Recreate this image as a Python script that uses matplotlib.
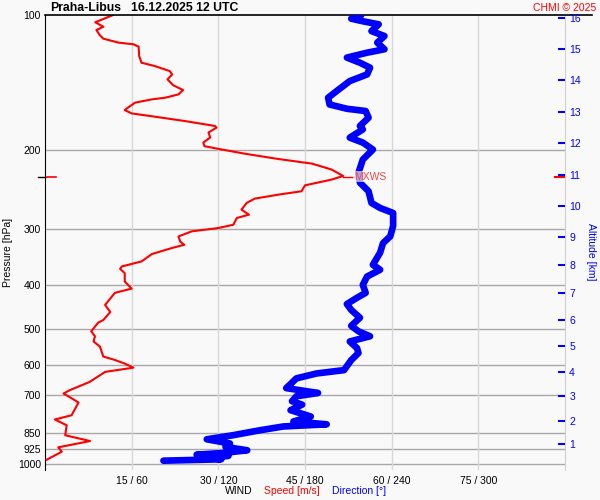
import numpy as np
import matplotlib.pyplot as plt
from matplotlib.ticker import NullLocator

plt.rcParams['font.family'] = ['Liberation Sans', 'DejaVu Sans']

# pressure levels (hPa) shown on the left axis
p_levels = [100, 200, 300, 400, 500, 600, 700, 850, 925, 1000]
# speed / direction ticks
spd_ticks = [15, 30, 45, 60, 75]
dir_ticks = [60, 120, 180, 240, 300]
# altitude scale (km) and matching pressure (hPa)
alt_km = [1, 2, 3, 4, 5, 6, 7, 8, 9, 10, 11, 12, 13, 14, 15, 16]
alt_p = [902.5, 799.5, 704.4, 622.8, 545.8, 478.5, 415.6, 360.8, 311.9,
         266.6, 227.3, 193.2, 164.6, 139.8, 119.3, 101.7]

# wind speed profile
spd_p = [100.0, 103.8, 106.2, 108.0, 111.0, 112.9, 115.2, 116.2, 117.6, 123.4,
         127.7, 129.9, 133.3, 135.6, 139.1, 143.4, 146.9, 150.2, 152.8, 154.1,
         156.7, 161.6, 162.8, 165.6, 168.4, 172.2, 176.6, 178.1, 182.6, 187.3,
         192.3, 195.9, 198.6, 203.6, 209.2, 214.2, 220.8, 228.2, 232.5, 239.4,
         246.8, 251.1, 256.3, 262.0, 271.2, 278.3, 283.0, 293.0, 298.0, 303.1,
         311.1, 319.4, 324.7, 330.3, 340.5, 353.7, 362.8, 367.3, 375.5, 391.9,
         406.5, 415.4, 442.0, 458.3, 477.4, 484.0, 506.0, 519.0, 533.0, 547.0,
         576.0, 586.0, 597.0, 609.5, 623.0, 656.0, 684.0, 696.0, 713.0, 729.0,
         778.0, 795.0, 819.0, 862.0, 888.0, 917.0, 938.0, 977.0]
spd_v = [11.8, 8.7, 10.1, 8.9, 9.5, 10.1, 12.7, 15.3, 16.2, 16.3,
         16.7, 19.0, 21.6, 22.0, 21.2, 22.2, 23.9, 23.1, 20.8, 18.5,
         15.6, 14.1, 13.8, 15.0, 19.0, 24.2, 29.4, 29.7, 28.3, 28.6,
         27.4, 27.6, 30.0, 34.6, 40.4, 46.2, 49.6, 51.6, 49.6, 45.0,
         44.4, 40.4, 36.3, 34.9, 34.0, 35.3, 33.2, 32.6, 30.0, 25.4,
         23.1, 23.4, 24.1, 21.9, 18.5, 16.7, 13.3, 13.0, 13.8, 13.8,
         15.0, 12.1, 10.4, 11.3, 10.1, 9.2, 8.0, 8.65, 8.4, 9.5,
         10.1, 12.1, 13.8, 15.3, 10.4, 7.7, 4.3, 3.2, 4.6, 5.8,
         4.6, 1.7, 3.75, 3.5, 7.8, 2.3, 2.9, 0.3]

# wind direction profile
dir_p = [100.0, 101.9, 103.1, 104.9, 108.6, 111.4, 115.2, 119.2, 121.3, 124.4,
         127.7, 131.0, 135.6, 140.3, 147.6, 152.8, 158.2, 161.7, 163.6, 169.3,
         176.6, 179.8, 187.5, 192.3, 199.3, 209.8, 224.6, 236.1, 246.8, 262.0,
         268.9, 275.9, 294.6, 303.0, 311.0, 322.0, 338.0, 359.8, 369.0, 382.0,
         398.8, 415.4, 426.0, 440.0, 453.5, 472.0, 492.0, 506.0, 519.0, 533.0,
         551.5, 565.6, 586.4, 617.3, 628.0, 644.0, 663.0, 677.0, 694.0, 706.0,
         724.0, 736.8, 758.0, 783.0, 803.0, 815.0, 824.0, 840.0, 862.0, 880.0,
         899.0, 915.0, 931.0, 944.0, 952.0, 958.0, 965.0, 975.0, 982.0]
dir_v = [219, 212, 219, 231, 226, 235, 230, 235, 223, 209,
         218, 225, 223, 211, 202, 196, 197, 209, 222, 224,
         218, 220, 211, 220, 227, 220, 217, 218, 224, 226,
         232, 241, 241, 240, 239, 234, 232, 227, 232, 223,
         220, 222, 216, 209, 212, 218, 212, 217, 225, 211,
         216, 217, 212, 207, 188, 174, 170, 167, 189, 174,
         171, 178, 170, 184, 172, 195, 165, 149, 130, 112,
         128, 125, 140, 123, 105, 127, 110, 122, 82]

# max wind
mx_p = 229.0
mx_spd = 51.6

bg = '#f9f9f9'
fig = plt.figure(figsize=(6, 5), dpi=100, facecolor=bg)
ax = fig.add_axes([0.075, 0.06, 0.8667, 0.91])
ax.set_facecolor(bg)

ax.set_yscale('log')
ax.set_ylim(1030, 100)
ax.set_xlim(0, 90)
ax.yaxis.set_minor_locator(NullLocator())
ax.set_yticks(p_levels)
ax.set_yticklabels([str(p) for p in p_levels])
ax.tick_params(axis='y', length=0, pad=3, labelsize=7.5)
ax.set_xticks(spd_ticks)
ax.set_xticklabels([f'{s} / {d}' for s, d in zip(spd_ticks, dir_ticks)])
ax.tick_params(axis='x', length=0, pad=4, labelsize=7.5)

for p in p_levels[1:]:
    ax.axhline(p, color='#a8a8a8', lw=1, zorder=1)
for s in spd_ticks:
    ax.axvline(s, color='#d8d8d8', lw=1, zorder=1)

ax.spines['bottom'].set_visible(False)
ax.spines['top'].set_visible(False)
ax.spines['right'].set_color('#d0d0d0')
ax.spines['left'].set_color('black')
ax.axhline(100, xmin=0, xmax=1.052, color='black', lw=1.2, clip_on=False, zorder=4)

# wind speed
ax.plot(spd_v, spd_p, color='red', lw=1.5, zorder=3)

# max wind markers
ax.plot([-1.2, 0], [mx_p, mx_p], color='black', lw=1, clip_on=False)
ax.plot([0, 1.9], [mx_p, mx_p], color='red', lw=1.2)
ax.plot([88.2, 90], [mx_p, mx_p], color='red', lw=1.5, clip_on=False)
ax.plot([mx_spd, mx_spd + 1.8], [mx_p, mx_p], color='red', lw=1)

# wind direction
ax_d = ax.twiny()
ax_d.set_xlim(0, 360)
ax_d.plot(dir_v, dir_p, color='blue', lw=4.8,
          solid_joinstyle='round', solid_capstyle='round')
ax_d.set_xticks([])
for sp in ax_d.spines.values():
    sp.set_visible(False)
ax_d.text(mx_spd + 1.9, mx_p, 'MXWS', transform=ax.transData, color='#ff4040',
          fontsize=7.5, va='center', ha='left',
          bbox=dict(facecolor='white', alpha=0.65, edgecolor='none', pad=0.6))

# altitude axis
ax_r = ax.twinx()
ax_r.set_yscale('log')
ax_r.set_ylim(1030, 100)
ax_r.yaxis.set_minor_locator(NullLocator())
ax_r.set_yticks(alt_p)
ax_r.set_yticklabels([str(a) for a in alt_km])
ax_r.tick_params(axis='y', direction='in', length=5, width=1.5, color='blue',
                 labelcolor='blue', pad=3, labelsize=7.5)
for sp in ax_r.spines.values():
    sp.set_visible(False)

# labels
fig.text(8 / 600, 1 - 252 / 500, 'Pressure [hPa]', rotation=90,
         va='center', ha='center', fontsize=7.5)
fig.text(591 / 600, 1 - 252 / 500, 'Altitude [km]', rotation=-90,
         va='center', ha='center', fontsize=7.5, color='blue')
fig.text(225 / 600, 1 - 491 / 500, 'WIND', fontsize=7.5, va='center')
fig.text(264 / 600, 1 - 491 / 500, 'Speed [m/s]', fontsize=7.5, va='center', color='red')
fig.text(332 / 600, 1 - 491 / 500, 'Direction [°]', fontsize=7.5, va='center', color='blue')

fig.text(50 / 600, 1 - 8 / 500, 'Praha-Libus', fontsize=8.8, weight='bold', va='center')
fig.text(131 / 600, 1 - 8 / 500, '16.12.2025 12 UTC', fontsize=8.8, weight='bold', va='center')
fig.text(596 / 600, 1 - 8 / 500, 'CHMI © 2025', fontsize=7.5, color='red',
         ha='right', va='center')

fig.savefig('out.png', dpi=100, facecolor=fig.get_facecolor())
